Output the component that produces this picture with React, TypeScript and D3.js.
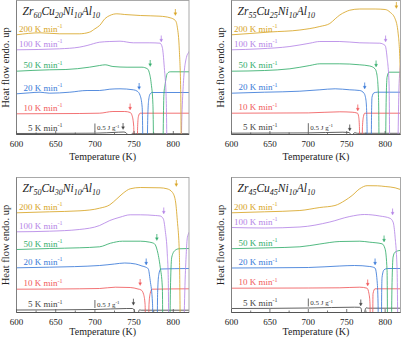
import React from "react";
import * as d3 from "d3";

type Pt = [number, number];

// heating rates (K/min) and their colours, lowest first
const rates = ["5", "10", "20", "50", "100", "200"];
const rateColors = ["#444444", "#f05a5c", "#3a7ad8", "#34ad6c", "#b585e6", "#d8a526"];

const tempTicks = [600, 650, 700, 750, 800];
const tempMinor = [625, 675, 725, 775];
const tempDomain = [600, 820];

// alloy names: element / subscript pairs
const alloy1 = [["Zr", "60"], ["Cu", "20"], ["Ni", "10"], ["Al", "10"]];
const alloy2 = [["Zr", "55"], ["Cu", "25"], ["Ni", "10"], ["Al", "10"]];
const alloy3 = [["Zr", "50"], ["Cu", "30"], ["Ni", "10"], ["Al", "10"]];
const alloy4 = [["Zr", "45"], ["Cu", "45"], ["Ni", "10"], ["Al", "10"]];

// DSC traces, stacked heat flow (a.u., offset per rate), [T (K), value]
const zr60Curves: Pt[][] = [
  [[600, 1], [700, 1.3], [730, 2.3], [737, 2.5], [740, 1.5], [742, -2], [743, -40], [745, -40], [746, -1], [748, 1.2], [752, 0.8], [820, 0.8]],
  [[600, 20.7], [680, 21], [706, 21.3], [723, 23], [738, 23], [745, 22], [747.4, 19], [749.5, 8], [750.5, -40], [753.5, -40], [754.5, 8], [755.5, 18], [757.7, 21.3], [820, 21.3]],
  [[600, 40.7], [617, 41.7], [630, 42.3], [642, 41.3], [668, 42.3], [690, 44], [706, 44], [719, 45.3], [732, 45.7], [749, 44.7], [754, 43.3], [757.7, 39], [760.3, 27], [762, -40], [766, -40], [767.5, 20], [768.5, 34], [770.5, 40.7], [773, 42], [820, 42]],
  [[600, 63.3], [642, 64.7], [663, 65], [693, 67.3], [706, 69], [713, 69.7], [723, 68], [741, 67.3], [760, 67.3], [767, 65.7], [769.2, 62.3], [771.8, 51], [774, 30], [775.5, -40], [786, -40], [788, 40], [789.7, 51], [792.3, 61], [796, 62.7], [820, 62.7]],
  [[600, 84.7], [655, 85.7], [680, 87.3], [690, 89], [706, 92.3], [719, 93], [732, 93.3], [749, 91.7], [770, 91.7], [783, 91.3], [785.9, 87.3], [788.5, 67], [791, 34], [792.5, -40], [809, -40], [811, 20], [812.8, 51], [816.7, 77], [819.5, 82], [824, 86]],
  [[600, 99.7], [630, 101.7], [655, 100.7], [680, 100.7], [693, 102.3], [700, 105.7], [706, 109], [713, 116], [719, 119], [728, 120.7], [738, 120], [758, 119], [783, 118.3], [796, 116.7], [802.6, 114], [805.1, 107.3], [807.7, 84], [809.5, 40], [810.5, -40], [825, -40]],
];
const zr60Tx = [735.9, 744.9, 756.4, 770.5, 784.6, 802.6];
const zr60TxLevel = [5, 24.5, 45, 68, 92.5, 119];

const zr55Curves: Pt[][] = [
  [[600, 1.3], [700, 1.6], [745, 2.3], [753, 2], [755, 0], [756, -40], [757.5, -40], [758.5, 0.5], [760.5, 1.8], [764, 1.2], [820, 1.2]],
  [[600, 21.3], [700, 21.6], [741, 22.7], [757, 22.3], [764, 21.3], [765.5, 18], [766.5, 8], [767.5, -40], [769.5, -40], [770.5, 8], [771.8, 18], [773.5, 21.3], [820, 21.3]],
  [[600, 41.3], [643, 42.3], [689, 43.3], [715, 44.7], [735, 45.7], [754, 44.7], [767, 44], [772.5, 41.3], [775.1, 34], [776.4, 10], [777, -40], [781.6, -40], [782.3, 20], [782.9, 37.3], [785.5, 41.7], [790, 42.3], [820, 42.3]],
  [[600, 63.3], [643, 64], [676, 65.7], [702, 69], [715, 70.7], [741, 70.7], [767, 69.7], [780, 68.5], [786.8, 65.7], [789.5, 59], [791.5, 34], [792.5, -40], [799.9, -40], [801.5, 40], [802.5, 57.3], [805.1, 62.3], [820, 62.3]],
  [[600, 84.7], [637, 85.7], [676, 88], [702, 91.3], [715, 93], [741, 93], [767, 91.7], [793, 91.3], [800, 89], [802.5, 77.3], [805.1, 50.7], [806.4, -40], [815.6, -40], [818.2, 51], [820.8, 74], [824, 82]],
  [[600, 99.7], [624, 101], [650, 102.5], [689, 104.5], [715, 108], [728, 111], [735, 115.7], [741, 119.5], [748, 122.5], [754, 124.3], [767, 125.5], [787, 125.5], [800, 125], [806.4, 122.3], [813, 115.7], [817, 100.7], [819.5, 67.3], [821, -40], [825, -40]],
];
const zr55Tx = [753.9, 764.4, 773.4, 788.2, 800.6, 814.6];
const zr55TxLevel = [3.5, 23.5, 45.5, 67.5, 92.5, 126];

const zr50Curves: Pt[][] = [
  [[600, 2.5], [700, 3], [740, 4], [748, 4], [750.5, 2], [751.5, -40], [754.5, -40], [755.5, 0], [757, 2.7], [759, 2.3], [820, 2.3]],
  [[600, 23.3], [680, 23.7], [706, 24], [726, 25.3], [745, 25], [755, 23.5], [759, 22.5], [762, 18.5], [764, 8], [765, -40], [768, -40], [769, 8], [770.5, 19], [773, 23.3], [820, 23.7]],
  [[600, 44.7], [642, 45.3], [706, 47], [725, 48.5], [738, 49.5], [752, 48.5], [760, 46.5], [765, 45.3], [768, 43.7], [770.5, 32], [773.5, 8.7], [774.5, -40], [779, -40], [780, 20], [781.5, 38], [784, 43.5], [820, 44]],
  [[600, 63], [642, 64], [680, 64.7], [706, 65.7], [720, 69.3], [735, 71.3], [758, 71.3], [770, 70.3], [776, 68.7], [779.5, 62], [783.3, 45.3], [786, 25.3], [787, -40], [795, -40], [796.5, 30], [798, 55.3], [802, 62], [807, 63.7], [820, 64]],
  [[600, 80.7], [642, 81.3], [680, 83], [706, 87], [719, 92], [732, 95.3], [745, 97.7], [758, 97.7], [777, 97], [783.3, 96.5], [787.2, 93.7], [789.7, 82], [792.3, 58.7], [793.6, 32], [794.5, -40], [812, -40], [815.5, 42], [818, 75.3], [822, 82]],
  [[600, 99.7], [642, 100.7], [681, 101.7], [706, 104.3], [719, 107.7], [728, 113.7], [736, 119.3], [745, 123.7], [758, 125], [783, 124.7], [792, 123.7], [798.7, 120.3], [802.6, 112], [805.1, 92], [807.7, 58.7], [809.5, -40], [825, -40]],
];
const zr50Tx = [749.1, 757.7, 765.4, 779, 787.8, 803.8];
const zr50TxLevel = [7.3, 27, 47.5, 72, 98.5, 126];

const zr45Curves: Pt[][] = [
  [[600, 4], [700, 4.5], [760, 5.3], [767, 5.2], [769, 3.5], [770.5, -40], [772.5, -40], [773.5, 1], [775.5, 4.7], [778, 4.3], [820, 4.3]],
  [[600, 24.3], [700, 24.5], [741, 24.7], [767, 25.3], [776.4, 24.3], [779, 18.7], [780.3, 8.7], [781, -40], [783.5, -40], [784.2, 18.7], [786.8, 23.7], [820, 23.7]],
  [[600, 44.5], [650, 44.7], [700, 45], [741, 46.5], [760, 47], [780, 46], [786.8, 44.5], [789.5, 32], [790.8, 8.7], [791.5, -40], [795, -40], [795.5, 20], [796, 35.3], [798.6, 42.7], [803, 44], [820, 44]],
  [[600, 63.8], [650, 64.7], [689, 65.7], [715, 68.5], [741, 71], [767, 71.3], [780, 70.3], [796, 68.7], [799.9, 63.7], [802.5, 42], [803.5, -40], [807.5, -40], [809, 30], [810.3, 55.3], [812.9, 60.3], [819.5, 62], [822, 62]],
  [[600, 85], [643, 84.5], [689, 85.5], [728, 90.5], [754, 96], [773, 98], [793, 96.5], [806.4, 94.2], [810.4, 90.3], [813, 75.3], [815.6, 42], [817, -40], [825, -40]],
  [[600, 99.7], [643, 100.7], [689, 102], [715, 105], [734.7, 107], [747.7, 112], [757, 117], [767, 123.8], [776.5, 126.8], [790, 126.7], [800, 126], [813, 124.7], [820, 123]],
];
const zr45Tx = [768.3, 777.3, 786.9, 798.6, 809.7];
const zr45TxLevel = [6.5, 26.5, 47.5, 70.5, 97.5];

const FONT = "'Liberation Serif', 'DejaVu Serif', serif";

type Layout = { left: number; right: number; top: number; bottom: number; titleGap: number };

const layouts: Layout[] = [
  { left: 16.5, right: 189, top: 0.5, bottom: 134.5, titleGap: 25 },
  { left: 231.5, right: 400.5, top: 0.5, bottom: 134.5, titleGap: 25 },
  { left: 16.5, right: 189, top: 177.5, bottom: 312.5, titleGap: 22 },
  { left: 231.5, right: 400.5, top: 177.5, bottom: 312.5, titleGap: 22 },
];

function Panel({ id, lay, name, curves, tx, txLevel }: {
  id: string; lay: Layout; name: string[][]; curves: Pt[][]; tx: number[]; txLevel: number[];
}) {
  const x = d3.scaleLinear().domain(tempDomain).range([lay.left, lay.right]);
  const y = d3.scaleLinear().domain([0, lay.bottom - lay.top]).range([lay.bottom, lay.top]);
  const line = d3.line<Pt>().x((d) => x(d[0])).y((d) => y(d[1])).curve(d3.curveMonotoneX);
  const cx = (lay.left + lay.right) / 2;
  const cy = (lay.top + lay.bottom) / 2;
  const barBase = curves[0][0][1] + 2;
  const barX = x(700);

  return (
    <g>
      <defs>
        <clipPath id={id}>
          <rect x={lay.left} y={lay.top} width={lay.right - lay.left} height={lay.bottom - lay.top} />
        </clipPath>
      </defs>

      <g clipPath={`url(#${id})`}>
        {curves.map((c, i) => (
          <path key={i} d={line(c) ?? ""} fill="none" stroke={rateColors[i]} strokeWidth={0.85} />
        ))}
      </g>

      {/* frame */}
      <rect x={lay.left} y={lay.top} width={lay.right - lay.left} height={lay.bottom - lay.top}
        fill="none" stroke="#a0a0a0" strokeWidth={0.9} />
      <line x1={lay.left} x2={lay.right} y1={lay.bottom} y2={lay.bottom} stroke="#555" strokeWidth={1} />
      <line x1={lay.left} x2={lay.left} y1={lay.top} y2={lay.bottom} stroke="#808080" strokeWidth={1} />
      {tempTicks.map((t) => (
        <line key={t} x1={x(t)} x2={x(t)} y1={lay.bottom} y2={lay.bottom - 3.5} stroke="#555" strokeWidth={0.8} />
      ))}
      {tempMinor.map((t) => (
        <line key={t} x1={x(t)} x2={x(t)} y1={lay.bottom} y2={lay.bottom - 2} stroke="#555" strokeWidth={0.8} />
      ))}
      {tempTicks.map((t) => (
        <text key={t} x={x(t)} y={lay.bottom + 12} textAnchor="middle" fontSize={9} fontFamily={FONT} fill="#222">
          {t}
        </text>
      ))}
      <text x={cx} y={lay.bottom + lay.titleGap} textAnchor="middle" fontSize={10} fontFamily={FONT} fill="#222">
        Temperature (K)
      </text>
      <text transform={`translate(${lay.left - 7.5},${cy}) rotate(-90)`} textAnchor="middle" fontSize={10.5}
        fontFamily={FONT} fill="#222">
        Heat flow endo. up
      </text>

      {/* alloy name */}
      <text x={lay.left + 6} y={lay.top + 14.5} fontSize={11.5} fontStyle="italic" fontFamily={FONT} fill="#222">
        {name.map(([el, n], i) => (
          <React.Fragment key={i}>
            <tspan dy={i === 0 ? 0 : -2.5} fontSize={11.5}>{el}</tspan>
            <tspan dy={2.5} fontSize={8}>{n}</tspan>
          </React.Fragment>
        ))}
      </text>

      {/* rate labels */}
      {curves.map((c, i) => (
        <text key={i} x={lay.left + 46} y={y(c[0][1]) - 3} textAnchor="end" fontSize={9} fontFamily={FONT}
          fill={rateColors[i]}>
          {rates[i]} K min<tspan dy={-3.5} fontSize={6}>-1</tspan>
        </text>
      ))}

      {/* Tx arrows */}
      {tx.map((t, i) => {
        const ax = x(t);
        const ay = y(txLevel[i]);
        return (
          <g key={i} stroke={rateColors[i]} fill={rateColors[i]}>
            <line x1={ax} x2={ax} y1={ay - 6.5} y2={ay - 2} strokeWidth={0.8} />
            <path d={`M${ax - 1.5},${ay - 2.8}L${ax + 1.5},${ay - 2.8}L${ax},${ay}Z`} strokeWidth={0.3} />
          </g>
        );
      })}

      {/* scale bar */}
      <line x1={barX} x2={barX} y1={y(barBase)} y2={y(barBase + 8)} stroke="#444" strokeWidth={0.8} />
      <text x={barX + 2} y={y(barBase) - 1.5} fontSize={7} fontFamily={FONT} fill="#333">
        0.5 J g<tspan dy={-2.5} fontSize={5}>-1</tspan>
      </text>
    </g>
  );
}

export default function App() {
  return (
    <svg width={403} height={338} style={{ position: "fixed", left: 0, top: 0, background: "#fff" }}>
      <rect width={403} height={338} fill="#fff" />
      <Panel id="c1" lay={layouts[0]} name={alloy1} curves={zr60Curves} tx={zr60Tx} txLevel={zr60TxLevel} />
      <Panel id="c2" lay={layouts[1]} name={alloy2} curves={zr55Curves} tx={zr55Tx} txLevel={zr55TxLevel} />
      <Panel id="c3" lay={layouts[2]} name={alloy3} curves={zr50Curves} tx={zr50Tx} txLevel={zr50TxLevel} />
      <Panel id="c4" lay={layouts[3]} name={alloy4} curves={zr45Curves} tx={zr45Tx} txLevel={zr45TxLevel} />
    </svg>
  );
}
